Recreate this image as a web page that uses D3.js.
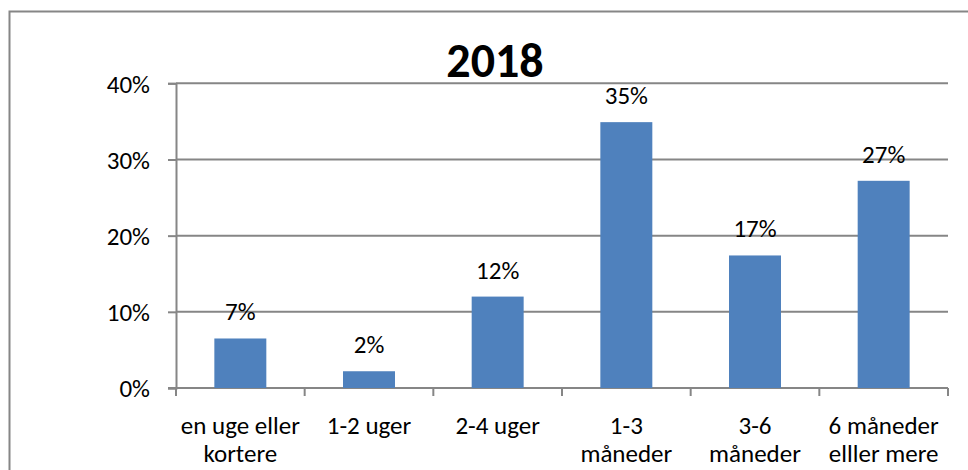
<!DOCTYPE html>
<html>
<head>
<meta charset="utf-8">
<title>2018</title>
<script src="https://d3js.org/d3.v7.min.js"></script>
<style>
  body { margin: 0; background: #fff; }
  svg text { font-family: Carlito, Calibri, Lato, sans-serif; fill: #000; }
</style>
</head>
<body>
<svg id="chart" width="968" height="470"></svg>
<script>
// data
const categories = [
  ["en uge eller", "kortere"],
  ["1-2 uger"],
  ["2-4 uger"],
  ["1-3", "måneder"],
  ["3-6", "måneder"],
  ["6 måneder", "elller mere"]
];
const values = [6.5, 2.2, 12.0, 34.9, 17.4, 27.2];
const yTicks = [0, 10, 20, 30, 40];
const title = "2018";

const svg = d3.select("#chart");
const plot = { left: 176, right: 948, top: 83.3, bottom: 388 };
const fs = 25;

// outer frame (right and bottom edges run off the picture)
svg.append("rect")
  .attr("x", 9.5).attr("y", 11.5)
  .attr("width", 1000).attr("height", 500)
  .attr("fill", "none").attr("stroke", "#868686").attr("stroke-width", 2);

const x = d3.scaleBand()
  .domain(d3.range(categories.length))
  .range([plot.left, plot.right])
  .paddingInner(0.596)
  .paddingOuter(0.298);

const y = d3.scaleLinear()
  .domain([0, 40])
  .range([plot.bottom, plot.top]);

// gridlines
svg.append("g")
  .selectAll("line")
  .data(yTicks.slice(1))
  .join("line")
  .attr("x1", plot.left).attr("x2", plot.right)
  .attr("y1", d => y(d)).attr("y2", d => y(d))
  .attr("stroke", "#868686").attr("stroke-width", 2);

// y axis
const yAxis = svg.append("g")
  .attr("transform", `translate(${plot.left},0)`)
  .call(d3.axisLeft(y).tickValues(yTicks).tickSize(8).tickPadding(18).tickFormat(d => d + "%"));
yAxis.select(".domain").attr("stroke", "#868686").attr("stroke-width", 2);
yAxis.selectAll(".tick line").attr("stroke", "#868686").attr("stroke-width", 2);
yAxis.selectAll(".tick text").attr("font-size", fs).attr("dy", "0.35em")
  .style("font-family", "Carlito, Calibri, Lato, sans-serif");

// x axis: category boundaries
const step = x.step();
const bounds = d3.range(categories.length + 1).map(i => plot.left + i * step);
svg.append("g")
  .selectAll("line")
  .data(bounds)
  .join("line")
  .attr("x1", d => d).attr("x2", d => d)
  .attr("y1", plot.bottom).attr("y2", plot.bottom + 8)
  .attr("stroke", "#868686").attr("stroke-width", 2);
svg.append("line")
  .attr("x1", plot.left - 8).attr("x2", plot.right)
  .attr("y1", plot.bottom).attr("y2", plot.bottom)
  .attr("stroke", "#868686").attr("stroke-width", 2);

// bars
svg.append("g")
  .selectAll("rect")
  .data(values)
  .join("rect")
  .attr("x", (d, i) => x(i))
  .attr("y", d => y(d))
  .attr("width", x.bandwidth())
  .attr("height", d => plot.bottom - y(d))
  .attr("fill", "#4F81BD");

// value labels
svg.append("g")
  .selectAll("text")
  .data(values)
  .join("text")
  .attr("x", (d, i) => x(i) + x.bandwidth() / 2)
  .attr("y", d => y(d) - 18)
  .attr("text-anchor", "middle")
  .attr("font-size", fs)
  .text(d => Math.round(d) + "%");

// category labels
const cat = svg.append("g")
  .selectAll("text")
  .data(categories)
  .join("text")
  .attr("x", (d, i) => x(i) + x.bandwidth() / 2)
  .attr("y", 434)
  .attr("text-anchor", "middle")
  .attr("font-size", fs);
cat.selectAll("tspan")
  .data(d => d)
  .join("tspan")
  .attr("x", function () { return d3.select(this.parentNode).attr("x"); })
  .attr("dy", (d, i) => i === 0 ? 0 : 28)
  .text(d => d);

// title
svg.append("text")
  .attr("x", 495).attr("y", 77)
  .attr("text-anchor", "middle")
  .attr("font-size", 48)
  .attr("font-weight", "bold")
  .text(title);
</script>
</body>
</html>
